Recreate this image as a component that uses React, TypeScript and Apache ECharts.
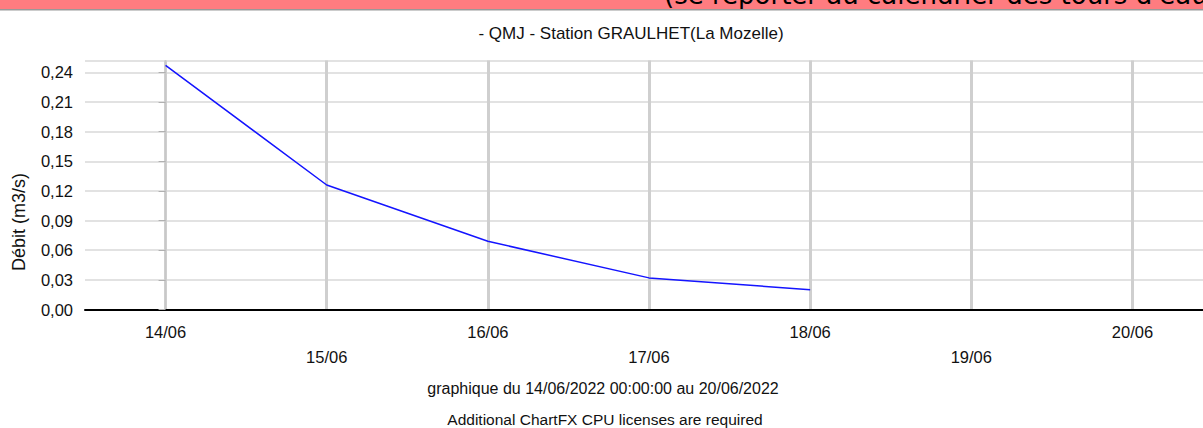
import React, { useEffect, useRef } from "react";
import * as echarts from "echarts";

const days = ["14/06", "15/06", "16/06", "17/06", "18/06", "19/06", "20/06"];
const flowValues = [0.247, 0.126, 0.069, 0.032, 0.02];
const yMax = 0.252;
const yStep = 0.03;

const titleText = "- QMJ - Station GRAULHET(La Mozelle)";
const yName = "Débit (m3/s)";
const periodText = "graphique du 14/06/2022 00:00:00 au 20/06/2022";
const licenseText = "Additional ChartFX CPU licenses are required";
const bannerText = "(se reporter au calendrier des tours d'eau";

const FONT = "'Liberation Sans', Arial, sans-serif";

export default function App() {
  const ref = useRef<HTMLDivElement>(null);
  useEffect(() => {
    if (!ref.current) return;
    const chart = echarts.init(ref.current, null, { renderer: "svg" });
    const seriesData = flowValues.map((v, i) => [i, v]);
    chart.setOption({
      animation: false,
      backgroundColor: "#ffffff",
      grid: { left: 85, top: 60.5, bottom: 118.5, right: 0, containLabel: false },
      xAxis: {
        type: "value",
        min: -0.5,
        max: days.length - 0.5,
        splitNumber: days.length,
        minInterval: 1,
        maxInterval: 1,
        axisLine: { show: true, onZero: false, lineStyle: { color: "#000000", width: 2 } },
        axisTick: { show: false },
        splitLine: {
          show: true,
          showMinLine: false,
          lineStyle: { color: "#cfcfcf", width: 3 },
        },
        axisLabel: {
          show: true,
          showMinLabel: false,
          showMaxLabel: false,
          margin: 10,
          fontFamily: FONT,
          fontSize: 16.5,
          lineHeight: 25,
          color: "#111111",
          formatter: (value: number) => {
            const i = Math.round(value);
            if (Math.abs(value - i) > 1e-6 || i < 0 || i >= days.length) return "";
            return i % 2 === 0 ? days[i] : "\n" + days[i];
          },
        },
      },
      yAxis: {
        type: "value",
        min: 0,
        max: yMax,
        interval: yStep,
        axisLine: { show: true, lineStyle: { color: "#c8c8c8", width: 1 } },
        axisTick: { show: true, inside: false, length: 7, lineStyle: { color: "#b0b0b0", width: 1 } },
        splitLine: { show: true, lineStyle: { color: "#d9d9d9", width: 1.5 } },
        axisLabel: {
          showMaxLabel: false,
          margin: 12,
          fontFamily: FONT,
          fontSize: 16.5,
          color: "#111111",
          formatter: (v: number) => v.toFixed(2).replace(".", ","),
        },
      },
      series: [
        {
          type: "line",
          data: seriesData,
          showSymbol: false,
          symbol: "none",
          lineStyle: { color: "#1414ff", width: 1.5 },
          z: 5,
        },
      ],
      graphic: [
        { type: "rect", shape: { x: 0, y: 0, width: 1213, height: 10 }, style: { fill: "#ff7c80" }, z: 1 },
        {
          type: "text",
          x: 664,
          y: 8,
          style: {
            text: bannerText,
            font: "26px 'DejaVu Sans', Verdana, sans-serif",
            fill: "#000000",
            textAlign: "left",
            textVerticalAlign: "bottom",
          },
          z: 2,
        },
        { type: "rect", shape: { x: 0, y: 10, width: 1213, height: 14 }, style: { fill: "#ffffff" }, z: 3 },
        { type: "rect", shape: { x: 0, y: 9, width: 1213, height: 1.5 }, style: { fill: "#999999" }, z: 4 },
        {
          type: "text",
          x: 631,
          y: 33,
          style: {
            text: titleText,
            font: `17px ${FONT}`,
            fill: "#111111",
            textAlign: "center",
            textVerticalAlign: "middle",
          },
        },
        {
          type: "text",
          x: 19,
          y: 222,
          rotation: Math.PI / 2,
          style: {
            text: yName,
            font: `18px ${FONT}`,
            fill: "#111111",
            textAlign: "center",
            textVerticalAlign: "middle",
          },
        },
        {
          type: "text",
          x: 603,
          y: 388,
          style: {
            text: periodText,
            font: `16px ${FONT}`,
            fill: "#111111",
            textAlign: "center",
            textVerticalAlign: "middle",
          },
        },
        {
          type: "text",
          x: 605,
          y: 419,
          style: {
            text: licenseText,
            font: `15.5px ${FONT}`,
            fill: "#111111",
            textAlign: "center",
            textVerticalAlign: "middle",
          },
        },
      ],
    });
    return () => chart.dispose();
  }, []);
  return (
    <div
      ref={ref}
      style={{ position: "fixed", left: 0, top: 0, width: 1213, height: 428, background: "#fff" }}
    />
  );
}
